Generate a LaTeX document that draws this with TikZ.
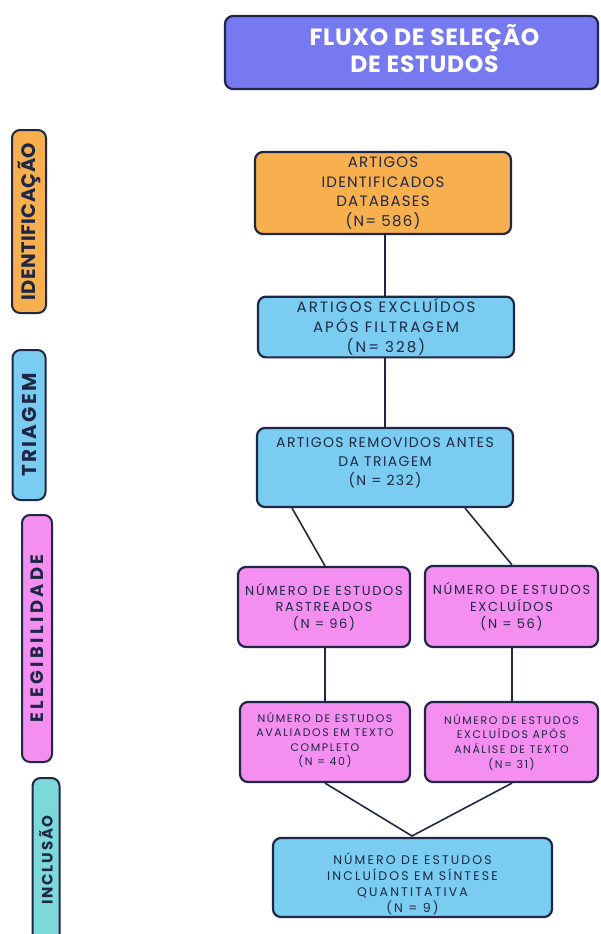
\documentclass[tikz,border=0pt]{standalone}
\usepackage{fontspec}
\setmainfont{Poppins}
\newfontfamily\boldpop{Poppins}[UprightFont=* Bold]
\newcommand{\fz}[3]{\fontsize{#1}{#2}\selectfont\addfontfeatures{LetterSpace=#3}}
\definecolor{ink}{HTML}{1E2745}
\definecolor{cTitle}{HTML}{7679F0}
\definecolor{cOrange}{HTML}{F8B04E}
\definecolor{cBlue}{HTML}{7ACDF0}
\definecolor{cPink}{HTML}{F48FF0}
\definecolor{cTeal}{HTML}{7DD8D8}
\tikzset{
  box/.style={draw=ink, line width=2.2pt, rounded corners=8pt, align=center, text=ink, inner sep=2pt},
  side/.style={draw=ink, line width=2pt, rounded corners=8pt, rotate=90, text=ink},
  link/.style={draw=ink, line width=1.6pt}
}
\begin{document}
\begin{tikzpicture}[x=1pt,y=-1pt]
\useasboundingbox (0,0) rectangle (601,934);
% title
\node[box, fill=cTitle, text=white, minimum width=373pt, minimum height=73pt,
  font=\boldpop\fz{23.5}{27}{3}] (title) at (411.5,52.5) {\hspace*{26pt}FLUXO DE SELEÇÃO\\\hspace*{26pt}DE ESTUDOS\\[-19pt]};
% side labels
\node[side, fill=cOrange, minimum width=183pt, minimum height=34pt, font=\boldpop\fz{19.5}{22}{2}] (ident) at (29,221.5) {IDENTIFICAÇÃO};
\node[side, fill=cBlue, minimum width=150pt, minimum height=33pt, font=\boldpop\fz{20}{22}{11}] (triag) at (29,425) {TRIAGEM};
\node[side, fill=cPink, minimum width=247pt, minimum height=30pt, font=\boldpop\fz{18}{20}{19}] (eleg) at (37,638.5) {ELEGIBILIDADE};
\node[side, fill=cTeal, minimum width=164pt, minimum height=27pt, font=\boldpop\fz{15}{17}{12}] (incl) at (46,860) {INCLUSÃO};
% boxes
\node[box, fill=cOrange, minimum width=256pt, minimum height=82pt, font=\fz{15}{19.5}{8}] (b1) at (383,193) {ARTIGOS\\IDENTIFICADOS\\DATABASES\\(N= 586)};
\node[box, fill=cBlue, minimum width=256pt, minimum height=60pt, font=\fz{15}{20}{14}] (b2) at (386,327) {ARTIGOS EXCLUÍDOS\\APÓS FILTRAGEM\\(N= 328)};
\node[box, fill=cBlue, minimum width=256pt, minimum height=79pt, font=\fz{14}{19}{10}] (b3) at (385,467.5) {ARTIGOS REMOVIDOS ANTES\\DA TRIAGEM\\(N = 232)\\[-8pt]};
\node[box, fill=cPink, minimum width=172pt, minimum height=80pt, font=\fz{13}{16.5}{13}] (b4) at (324,607) {NÚMERO DE ESTUDOS\\RASTREADOS\\(N = 96)};
\node[box, fill=cPink, minimum width=173pt, minimum height=81pt, font=\fz{13}{17}{13}] (b5) at (511.5,606.5) {NÚMERO DE ESTUDOS\\EXCLUÍDOS\\(N = 56)};
\node[box, fill=cPink, minimum width=170pt, minimum height=80pt, font=\fz{11}{14.5}{14}] (b6) at (325,742) {NÚMERO DE ESTUDOS\\AVALIADOS EM TEXTO\\COMPLETO\\(N = 40)\\[-8pt]};
\node[box, fill=cPink, minimum width=173pt, minimum height=80pt, font=\fz{11}{14.7}{14}] (b7) at (511.5,742) {NÚMERO DE ESTUDOS\\EXCLUÍDOS APÓS\\ANÁLISE DE TEXTO\\(N= 31)};
\node[box, fill=cBlue, minimum width=279pt, minimum height=79pt, font=\fz{12.5}{16}{17}] (b8) at (412.5,877.5) {NÚMERO DE ESTUDOS\\INCLUÍDOS EM SÍNTESE\\QUANTITATIVA\\(N = 9)\\[-26pt]};
% connectors
\coordinate (v) at (412,836);
\draw[link] (b1.south -| 385,0) -- (b2.north -| 385,0);
\draw[link] (b2.south -| 385,0) -- (b3.north -| 385,0);
\draw[link] (b3.south -| 292,0) -- (b4.north -| 325,0);
\draw[link] (b3.south -| 465,0) -- (b5.north -| 512,0);
\draw[link] (b4.south -| 325,0) -- (b6.north -| 325,0);
\draw[link] (b5.south -| 512,0) -- (b7.north -| 512,0);
\draw[link] (b6.south -| 325,0) -- (v) -- (b7.south -| 512,0);
\end{tikzpicture}
\end{document}
